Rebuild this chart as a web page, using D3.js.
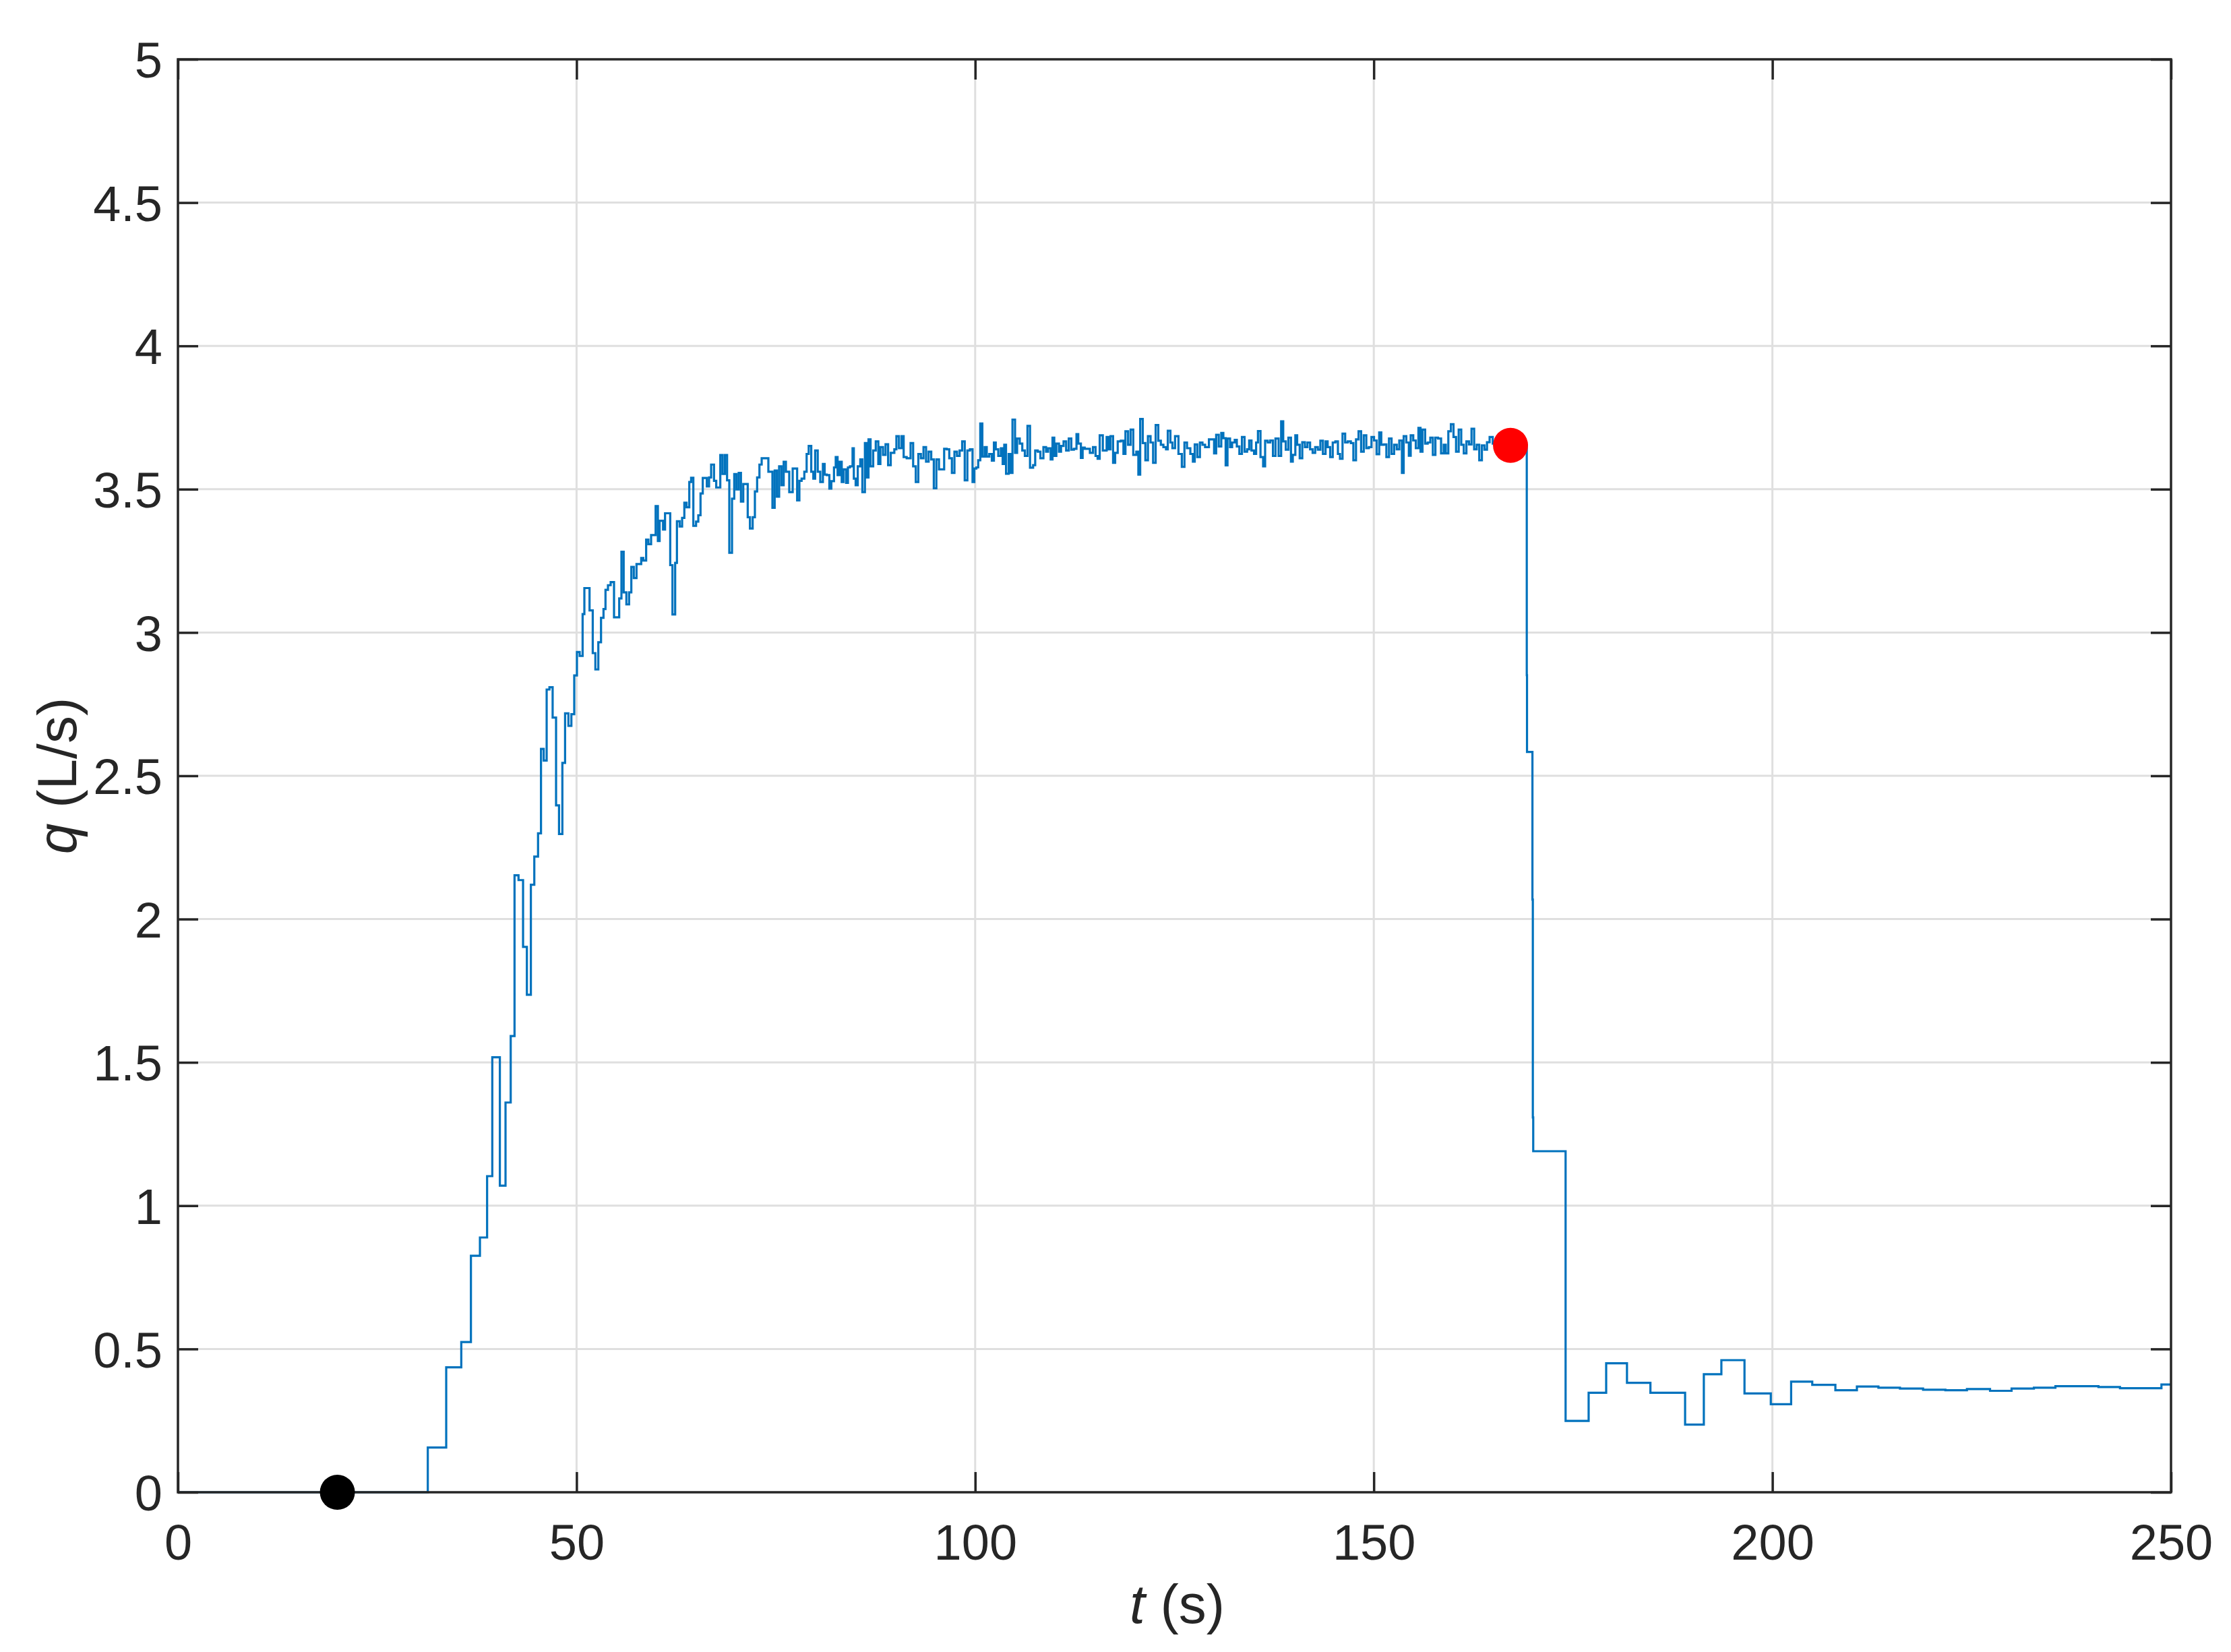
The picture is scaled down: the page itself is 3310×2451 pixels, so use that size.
<!DOCTYPE html>
<html><head><meta charset="utf-8">
<script src="https://cdn.jsdelivr.net/npm/d3@7"></script>
<style>html,body{margin:0;padding:0;background:#fff;} svg{display:block;}</style>
</head><body><div id="chart"></div>
<script>
// ---- data: stairs (value holds from each time until the next one) ----
const stepTimes = [
  0, 31.34, 33.65, 35.54, 36.75, 37.88, 38.78, 39.43, 40.38, 41.09, 41.74, 42.22, 42.72, 43.29, 43.77,
  44.27, 44.70, 45.17, 45.54, 45.88, 46.25, 46.6, 47.0, 47.43, 47.8, 48.22, 48.56, 48.98, 49.35, 49.71,
  50.05, 50.39, 50.76, 50.98, 51.63, 52.03, 52.36, 52.73, 53.07, 53.38, 53.63, 53.94, 54.28, 54.70, 55.35,
  55.63, 55.91, 56.25, 56.59, 56.87, 57.18, 57.52, 58.11, 58.37, 58.73, 59.01, 59.35, 59.92, 60.20, 60.42,
  60.85, 61.10, 61.75, 62.03, 62.37, 62.59, 62.93, 63.24, 63.52, 63.80, 64.14, 64.37, 64.65, 64.99, 65.27,
  65.55, 65.83, 66.34, 66.62, 66.88, 67.24, 67.52, 68.03, 68.31, 68.60, 68.88, 69.16, 69.50, 69.78, 70.06,
  70.34, 70.62, 70.91, 71.47, 71.75, 72.09, 72.37, 72.65, 72.94, 73.22, 74.06, 74.57, 74.85, 75.13, 75.41,
  75.70, 75.98, 76.26, 76.68, 77.11, 77.67, 77.95, 78.23, 78.57,
  78.86, 79.12, 79.44, 79.70, 79.93, 80.25, 80.57, 80.90, 81.12, 81.38, 81.71, 81.96, 82.29, 82.51, 82.74,
  83.00, 83.26, 83.49, 83.81, 84.04, 84.29, 84.62, 84.78, 85.01, 85.27, 85.59, 85.85, 86.17, 86.40, 86.62,
  86.88, 87.21, 87.53, 87.85, 88.11, 88.44, 88.76, 89.08, 89.41, 89.86, 90.12, 90.44, 90.77, 91.03, 91.41,
  91.90, 92.22, 92.55, 92.87, 93.19, 93.52, 93.84, 94.16, 94.49, 94.81, 95.13, 95.46, 96.11, 96.43, 96.75,
  97.08, 97.40, 97.72, 98.05, 98.37, 98.69, 99.02, 99.34, 99.67, 99.89, 100.15, 100.38, 100.64, 100.90, 101.19,
  101.45, 101.77, 102.09, 102.35, 102.58, 102.90, 103.22, 103.45, 103.65, 103.87, 104.20, 104.42, 104.68, 105.00, 105.26,
  105.59, 105.91, 106.23, 106.56, 106.88, 107.27, 107.53, 107.85, 108.18, 108.56, 108.89, 109.15, 109.47, 109.70, 109.92,
  110.18, 110.51, 110.77, 111.09, 111.41, 111.74, 112.06, 112.38, 112.71, 112.93, 113.26, 113.48, 113.74, 114.39, 114.78,
  115.10, 115.36, 115.62, 116.01, 116.49, 116.72, 116.98, 117.30, 117.56, 117.88, 118.27, 118.60, 118.85, 119.18, 119.50,
  119.83, 120.21, 120.47, 120.70, 121.02, 121.35, 121.67, 122.00, 122.32, 122.64, 122.97, 123.29, 123.61, 123.94, 124.16,
  124.49, 124.74, 125.07,
  125.50, 125.92, 126.25, 126.57, 126.99, 127.31, 127.54, 127.86, 128.19, 128.51, 128.84, 129.32, 129.97, 130.23, 130.55,
  130.87, 131.13, 131.42, 131.65, 131.97, 132.23, 132.56, 132.82, 133.14, 133.46, 133.79, 134.11, 134.37, 134.66, 134.98,
  135.24, 135.47, 135.79, 136.12, 136.37, 136.70, 137.02, 137.35, 137.67, 138.06, 138.38, 138.64, 138.96, 139.29, 139.61,
  139.84, 140.16, 140.39, 140.71, 141.03, 141.36, 141.68, 142.01, 142.33, 142.65, 142.98, 143.30, 143.62, 143.95, 144.21,
  144.53, 144.85, 145.18, 145.50, 145.76, 146.08, 146.41, 146.73, 147.12, 147.44, 147.77, 148.09, 148.41, 148.74, 149.06,
  149.38, 149.71, 150.03, 150.35, 150.68, 150.94, 151.26, 151.58, 151.91, 152.23, 152.55, 152.88, 153.20, 153.53, 153.75,
  154.08, 154.40, 154.63, 154.95, 155.27, 155.60, 155.86, 156.11, 156.44, 156.76, 157.09, 157.41, 157.73, 158.06, 158.44,
  158.77, 159.03, 159.35, 159.67, 160.00, 160.32, 160.65, 160.97, 161.29, 161.62, 161.94, 162.26, 162.59, 162.91, 163.23,
  163.56, 163.88, 164.20, 164.53, 164.92, 165.24,
  169.19, 169.22, 169.90, 169.95, 170.00,
  174.06, 176.95, 179.15, 181.76, 184.70, 189.05, 191.40, 193.60, 196.50, 199.80, 202.35, 205.00, 207.90, 210.60, 213.30,
  216.00, 218.90, 221.70, 224.40, 227.30, 230.00, 232.80, 235.50, 240.90, 243.60, 248.80
];
const flowValues = [
  0, 0.156, 0.436, 0.524, 0.825, 0.889, 1.103, 1.518, 1.070, 1.360, 1.592, 2.153, 2.136, 1.903, 1.736,
  2.120, 2.218, 2.299, 2.594, 2.553, 2.801, 2.809, 2.703, 2.397, 2.297, 2.545, 2.718, 2.674, 2.715, 2.850,
  2.932, 2.918, 3.064, 3.155, 3.077, 2.928, 2.871, 2.966, 3.051, 3.082, 3.149, 3.165, 3.176, 3.053, 3.119,
  3.282, 3.140, 3.098, 3.140, 3.229, 3.190, 3.239, 3.260, 3.251, 3.324, 3.308, 3.340, 3.441, 3.319, 3.390,
  3.359, 3.416, 3.235, 3.063, 3.243, 3.388, 3.370, 3.400, 3.453, 3.437, 3.525, 3.540, 3.372, 3.387, 3.409,
  3.485, 3.539, 3.510, 3.541, 3.586, 3.529, 3.506, 3.619, 3.553, 3.619, 3.531, 3.278, 3.467, 3.553, 3.499,
  3.557, 3.457, 3.518, 3.402, 3.363, 3.402, 3.492, 3.541, 3.586, 3.608, 3.561, 3.435, 3.565, 3.474, 3.580,
  3.514, 3.596, 3.561, 3.490, 3.572, 3.461, 3.529, 3.537, 3.561,
  3.623, 3.651, 3.561, 3.537, 3.635, 3.561, 3.525, 3.588, 3.551, 3.549, 3.502, 3.528, 3.576, 3.612, 3.549,
  3.596, 3.525, 3.569, 3.522, 3.576, 3.580, 3.643, 3.537, 3.514, 3.580, 3.604, 3.490, 3.661, 3.541, 3.674,
  3.580, 3.635, 3.667, 3.588, 3.647, 3.620, 3.657, 3.584, 3.627, 3.639, 3.685, 3.643, 3.685, 3.612, 3.608,
  3.661, 3.580, 3.525, 3.623, 3.608, 3.647, 3.596, 3.631, 3.604, 3.503, 3.604, 3.569, 3.641, 3.639, 3.608,
  3.557, 3.631, 3.616, 3.635, 3.667, 3.531, 3.635, 3.639, 3.525, 3.572, 3.576, 3.601, 3.729, 3.614, 3.647,
  3.614, 3.623, 3.600, 3.663, 3.639, 3.616, 3.643, 3.588, 3.655, 3.554, 3.623, 3.557, 3.743, 3.627, 3.677,
  3.659, 3.635, 3.616, 3.721, 3.575, 3.584, 3.635, 3.631, 3.608, 3.647, 3.631, 3.643, 3.604, 3.680, 3.616,
  3.659, 3.631, 3.651, 3.667, 3.635, 3.677, 3.638, 3.641, 3.692, 3.659, 3.609, 3.645, 3.641, 3.627, 3.647,
  3.616, 3.606, 3.688, 3.635, 3.682, 3.639, 3.685, 3.592, 3.627, 3.667, 3.669, 3.623, 3.702, 3.655, 3.708,
  3.620, 3.631, 3.551, 3.745, 3.661, 3.601, 3.685, 3.663, 3.592, 3.724, 3.669, 3.655, 3.647, 3.639, 3.704,
  3.663, 3.643, 3.685,
  3.623, 3.578, 3.663, 3.643, 3.623, 3.596, 3.656, 3.612, 3.663, 3.655, 3.647, 3.674, 3.625, 3.690, 3.649,
  3.696, 3.678, 3.583, 3.677, 3.647, 3.663, 3.672, 3.649, 3.623, 3.682, 3.631, 3.639, 3.670, 3.635, 3.623,
  3.663, 3.703, 3.612, 3.580, 3.669, 3.663, 3.670, 3.616, 3.677, 3.616, 3.737, 3.667, 3.638, 3.680, 3.596,
  3.620, 3.688, 3.655, 3.608, 3.664, 3.647, 3.663, 3.639, 3.627, 3.647, 3.638, 3.669, 3.623, 3.667, 3.647,
  3.612, 3.663, 3.667, 3.623, 3.606, 3.694, 3.663, 3.667, 3.661, 3.601, 3.674, 3.702, 3.631, 3.688, 3.643,
  3.647, 3.682, 3.670, 3.622, 3.698, 3.655, 3.656, 3.612, 3.677, 3.623, 3.655, 3.639, 3.670, 3.557, 3.685,
  3.663, 3.617, 3.688, 3.670, 3.643, 3.714, 3.631, 3.708, 3.659, 3.663, 3.680, 3.620, 3.680, 3.677, 3.625,
  3.655, 3.625, 3.702, 3.727, 3.682, 3.631, 3.708, 3.655, 3.625, 3.667, 3.656, 3.711, 3.639, 3.655, 3.601,
  3.653, 3.638, 3.664, 3.682, 3.659, 3.655,
  2.851, 2.583, 2.068, 1.308, 1.190,
  0.249, 0.347, 0.450, 0.382, 0.347, 0.236, 0.412, 0.461, 0.345, 0.307, 0.386, 0.375, 0.356, 0.369, 0.365,
  0.362, 0.358, 0.356, 0.360, 0.354, 0.362, 0.365, 0.370, 0.367, 0.363, 0.376
];
const tEnd = 250;

const markerTimes  = [20, 167.15];
const markerValues = [0, 3.653];
const markerColors = ["#000000", "#ff0000"];

const xTickValues = [0, 50, 100, 150, 200, 250];
const xTickLabels = ["0", "50", "100", "150", "200", "250"];
const yTickValues = [0, 0.5, 1, 1.5, 2, 2.5, 3, 3.5, 4, 4.5, 5];
const yTickLabels = ["0", "0.5", "1", "1.5", "2", "2.5", "3", "3.5", "4", "4.5", "5"];

// ---- layout ----
const W = 3310, H = 2451;
const L = 264, R = 3221, T = 88, B = 2214;
const FONT = "'Liberation Sans', Arial, Helvetica, sans-serif";
const INK = "#262626";

const x = d3.scaleLinear().domain([0, 250]).range([L, R]);
const y = d3.scaleLinear().domain([0, 5]).range([B, T]);

const svg = d3.select("#chart").append("svg")
  .attr("width", W).attr("height", H)
  .attr("viewBox", `0 0 ${W} ${H}`);
svg.append("rect").attr("width", W).attr("height", H).attr("fill", "#fff");

// grid
const grid = svg.append("g");
grid.selectAll("line.gx").data(xTickValues.slice(1, -1)).join("line")
  .attr("x1", d => x(d)).attr("x2", d => x(d)).attr("y1", T).attr("y2", B)
  .attr("stroke", "#dfdfdf").attr("stroke-width", 3);
grid.selectAll("line.gy").data(yTickValues.slice(1, -1)).join("line")
  .attr("x1", L).attr("x2", R).attr("y1", d => y(d)).attr("y2", d => y(d))
  .attr("stroke", "#dfdfdf").attr("stroke-width", 3);

// data line (stairs)
const pts = stepTimes.map((t, i) => [t, flowValues[i]]);
pts.push([tEnd, flowValues[flowValues.length - 1]]);
const line = d3.line().x(d => x(d[0])).y(d => y(d[1])).curve(d3.curveStepAfter);
svg.append("path").datum(pts).attr("d", line)
  .attr("fill", "none").attr("stroke", "#0072BD").attr("stroke-width", 3.2)
  .attr("stroke-linejoin", "miter");

// axes
const tick = 30;
const fmtX = (d, i) => xTickLabels[i];
const fmtY = (d, i) => yTickLabels[i];
const axB = svg.append("g").attr("transform", `translate(0,${B})`)
  .call(d3.axisBottom(x).tickValues(xTickValues).tickFormat(fmtX).tickSizeInner(-tick).tickSizeOuter(0).tickPadding(47));
const axT = svg.append("g").attr("transform", `translate(0,${T})`)
  .call(d3.axisTop(x).tickValues(xTickValues).tickFormat("").tickSizeInner(-tick).tickSizeOuter(0));
const axLf = svg.append("g").attr("transform", `translate(${L},0)`)
  .call(d3.axisLeft(y).tickValues(yTickValues).tickFormat(fmtY).tickSizeInner(-tick).tickSizeOuter(0).tickPadding(23));
const axRt = svg.append("g").attr("transform", `translate(${R},0)`)
  .call(d3.axisRight(y).tickValues(yTickValues).tickFormat("").tickSizeInner(-tick).tickSizeOuter(0));
[axB, axT, axLf, axRt].forEach(g => {
  g.select(".domain").remove();
  g.selectAll(".tick line").attr("stroke", INK).attr("stroke-width", 3.5);
  g.selectAll(".tick text").attr("fill", INK).style("font-family", FONT).style("font-size", "74px");
});
axLf.selectAll(".tick text").attr("dy", "0.36em");
svg.append("rect").attr("x", L).attr("y", T).attr("width", R - L).attr("height", B - T)
  .attr("fill", "none").attr("stroke", INK).attr("stroke-width", 3.5);

// axis labels
const xl = svg.append("text").attr("x", (L + R) / 2 + 4).attr("y", 2408)
  .attr("text-anchor", "middle").attr("fill", INK)
  .style("font-family", FONT).style("font-size", "82px");
xl.append("tspan").attr("font-style", "italic").text("t");
xl.append("tspan").text(" (s)");

const yl = svg.append("text").attr("transform", `translate(113,${(T + B) / 2}) rotate(-90)`)
  .attr("text-anchor", "middle").attr("fill", INK)
  .style("font-family", FONT).style("font-size", "82px");
yl.append("tspan").attr("font-style", "italic").text("q");
yl.append("tspan").text(" (L/s)");

// markers
svg.selectAll("circle.mk").data(markerTimes).join("circle")
  .attr("cx", d => x(d)).attr("cy", (d, i) => y(markerValues[i]))
  .attr("r", 26).attr("fill", (d, i) => markerColors[i]);
</script>
</body></html>
